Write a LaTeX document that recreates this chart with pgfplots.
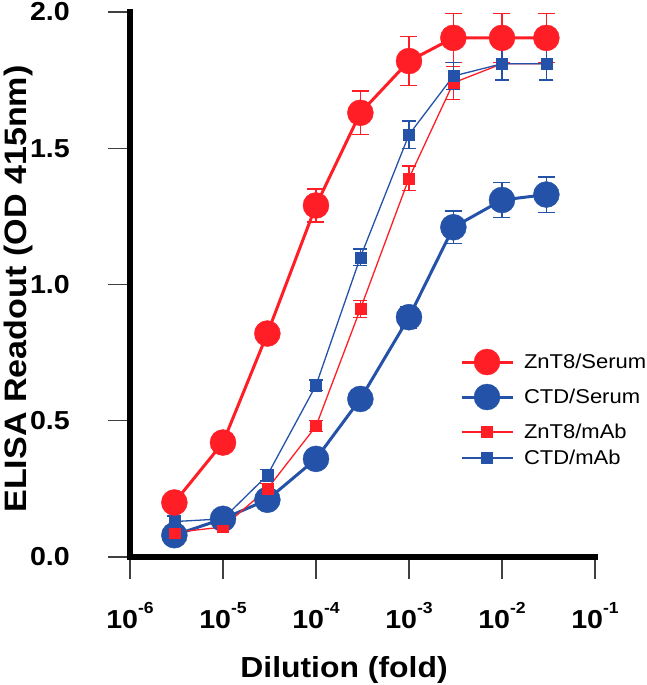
\documentclass[border=0pt]{standalone}
\usepackage{pgfplots}
\pgfplotsset{compat=1.18}
\usepackage{fontspec}
\setmainfont{Liberation Sans}[FakeStretch=1.1]
\definecolor{myred}{RGB}{255,30,38}
\definecolor{myblue}{RGB}{35,82,168}
\newcommand{\xl}[1]{10\raisebox{15pt}{\fontsize{16}{16}\selectfont\bfseries #1}}
\pgfplotsset{
  limg/.style={legend image code/.code={\path[draw=none,fill=none] (0pt,-#1) rectangle (51pt,#1);
      \draw[mark repeat=2,mark phase=2] plot coordinates {(0pt,0pt)(25.5pt,0pt)(51pt,0pt)};}},
}
\begin{document}
\begin{tikzpicture}
\begin{axis}[
  scale only axis, width=465pt, height=545pt,
  xmode=log, xmin=1e-6, xmax=1e-1, ymin=0, ymax=2,
  axis x line*=bottom, axis y line*=left,
  axis line style={line width=6pt, line cap=rect, -},
  xminorticks=false, yminorticks=false,
  tick align=outside, major tick length=22pt,
  tick style={line width=1.2pt, black!75},
  xtick={1e-6,1e-5,1e-4,1e-3,1e-2,1e-1},
  xticklabels={\xl{-6},\xl{-5},\xl{-4},\xl{-3},\xl{-2},\xl{-1}},
  xticklabel style={anchor=base, yshift=-49pt, font=\fontsize{26}{26}\selectfont\bfseries},
  ytick={0,0.5,1,1.5,2},
  yticklabels={0.0,0.5,1.0,1.5,2.0},
  yticklabel style={anchor=east, inner sep=0pt, xshift=-38pt, font=\fontsize{26}{26}\selectfont\bfseries},
  xlabel={Dilution (fold)},
  xlabel style={at={(axis description cs:0.4602,-0.2202)}, anchor=base, inner sep=0pt, font=\fontsize{29}{29}\selectfont\bfseries},
  ylabel={ELISA Readout (OD 415nm)},
  ylabel style={at={(axis description cs:-0.2215,0.4917)}, anchor=base, inner sep=0pt, font=\fontsize{31}{31}\selectfont\bfseries},
  clip=false,
  legend cell align=left,
  legend style={at={(axis description cs:0.7097,0.3899)}, anchor=north west, draw=none, fill=none,
     inner sep=0pt, outer sep=0pt, row sep=0pt, column sep=10pt,
     font=\fontsize{20}{20}\selectfont, nodes={inner sep=0pt}},
]
% ZnT8/Serum
\addplot[myred, line width=3pt, mark=*, mark size=13pt, mark options={solid, line width=0.4pt, fill=myred, draw=myred}, limg=17.5pt,
  error bars/.cd, y dir=both, y explicit, error bar style={line width=1.5pt, myred},
  error mark options={rotate=90, mark size=8.5pt, line width=1.5pt, myred}]
table[x=x, y=y, y error=e] {
x y e
3e-6 0.20 0.02
1e-5 0.42 0.02
3e-5 0.82 0.03
1e-4 1.29 0.06
3e-4 1.63 0.08
1e-3 1.82 0.09
3e-3 1.905 0.09
1e-2 1.905 0.09
3e-2 1.905 0.09
};
\addlegendentry{ZnT8/Serum}
% CTD/Serum
\addplot[myblue, line width=3pt, mark=*, mark size=13pt, mark options={solid, line width=0.4pt, fill=myblue, draw=myblue}, limg=17.5pt,
  error bars/.cd, y dir=both, y explicit, error bar style={line width=1.5pt, myblue},
  error mark options={rotate=90, mark size=8.5pt, line width=1.5pt, myblue}]
table[x=x, y=y, y error=e] {
x y e
3e-6 0.08 0.01
1e-5 0.14 0.01
3e-5 0.21 0.02
1e-4 0.36 0.02
3e-4 0.58 0.02
1e-3 0.88 0.04
3e-3 1.21 0.06
1e-2 1.31 0.065
3e-2 1.33 0.065
};
\addlegendentry{CTD/Serum}
% ZnT8/mAb
\addplot[myred, line width=1.3pt, mark=square*, mark size=5.5pt, mark options={solid, line width=0.4pt, fill=myred, draw=myred}, limg=17.5pt,
  error bars/.cd, y dir=both, y explicit, error bar style={line width=1.3pt, myred},
  error mark options={rotate=90, mark size=7pt, line width=1.3pt, myred}]
table[x=x, y=y, y error=e] {
x y e
3e-6 0.09 0.01
1e-5 0.11 0.01
3e-5 0.25 0.02
1e-4 0.48 0.02
3e-4 0.91 0.03
1e-3 1.39 0.045
3e-3 1.74 0.06
1e-2 1.81 0.06
3e-2 1.81 0.06
};
\addlegendentry{ZnT8/mAb}
% CTD/mAb
\addplot[myblue, line width=1.3pt, mark=square*, mark size=5.5pt, mark options={solid, line width=0.4pt, fill=myblue, draw=myblue}, limg=8.5pt,
  error bars/.cd, y dir=both, y explicit, error bar style={line width=1.3pt, myblue},
  error mark options={rotate=90, mark size=7pt, line width=1.3pt, myblue}]
table[x=x, y=y, y error=e] {
x y e
3e-6 0.13 0.02
1e-5 0.14 0.01
3e-5 0.30 0.02
1e-4 0.63 0.02
3e-4 1.10 0.03
1e-3 1.55 0.05
3e-3 1.765 0.05
1e-2 1.81 0.06
3e-2 1.81 0.06
};
\addlegendentry{CTD/mAb}
\coordinate (O) at (rel axis cs:0,0);
\end{axis}
\path (O) ++(-130pt,-128pt) rectangle ++(633pt,685pt);
\end{tikzpicture}
\end{document}
